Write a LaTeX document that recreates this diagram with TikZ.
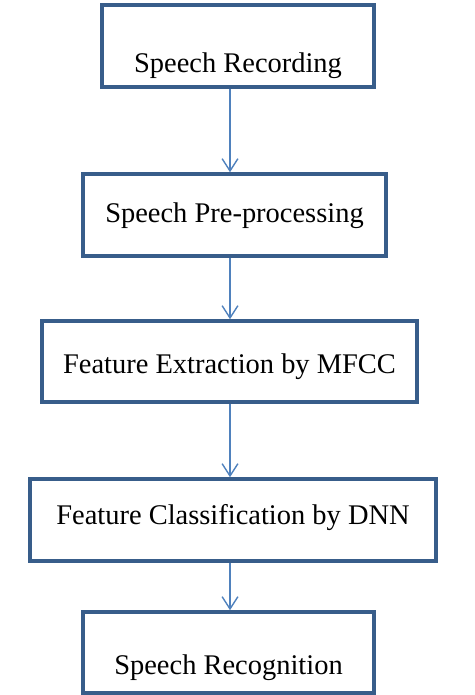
\documentclass[tikz,border=0pt]{standalone}
\usepackage{fontspec}
\setmainfont{Liberation Serif}
\usetikzlibrary{arrows.meta}
\definecolor{boxblue}{RGB}{56,93,138}
\definecolor{arrowblue}{RGB}{79,129,189}
\begin{document}
\begin{tikzpicture}[x=0.02cm,y=-0.02cm,
  stage/.style={draw=boxblue,line width=2pt,inner sep=0pt,text depth=0pt,
    font=\fontsize{16.2}{19}\selectfont},
  flow/.style={draw=arrowblue,line width=0.8pt,-{Straight Barb[length=7pt,width=9pt]}}]
\useasboundingbox (0,0) rectangle (474,695);
\node[stage,minimum width=5.44cm,minimum height=1.64cm,text height=1.06cm] (rec) at (238,46) {Speech Recording};
\node[stage,minimum width=6.06cm,minimum height=1.64cm,text height=0.32cm] (pre) at (234.5,215) {Speech Pre-processing};
\node[stage,minimum width=7.5cm,minimum height=1.62cm,text height=0.48cm] (mfcc) at (229.5,361.5) {Feature Extraction by MFCC};
\node[stage,minimum width=8.12cm,minimum height=1.64cm,text height=0.16cm] (dnn) at (233,520) {Feature Classification by DNN};
\node[stage,minimum width=5.82cm,minimum height=1.62cm,text height=0.86cm] (reco) at (228.5,652.5) {Speech Recognition};
\coordinate (spine) at (230,0);
\draw[flow] (rec.south -| spine) -- (pre.north -| spine);
\draw[flow] (pre.south -| spine) -- (mfcc.north -| spine);
\draw[flow] (mfcc.south -| spine) -- (dnn.north -| spine);
\draw[flow] (dnn.south -| spine) -- (reco.north -| spine);
\end{tikzpicture}
\end{document}
